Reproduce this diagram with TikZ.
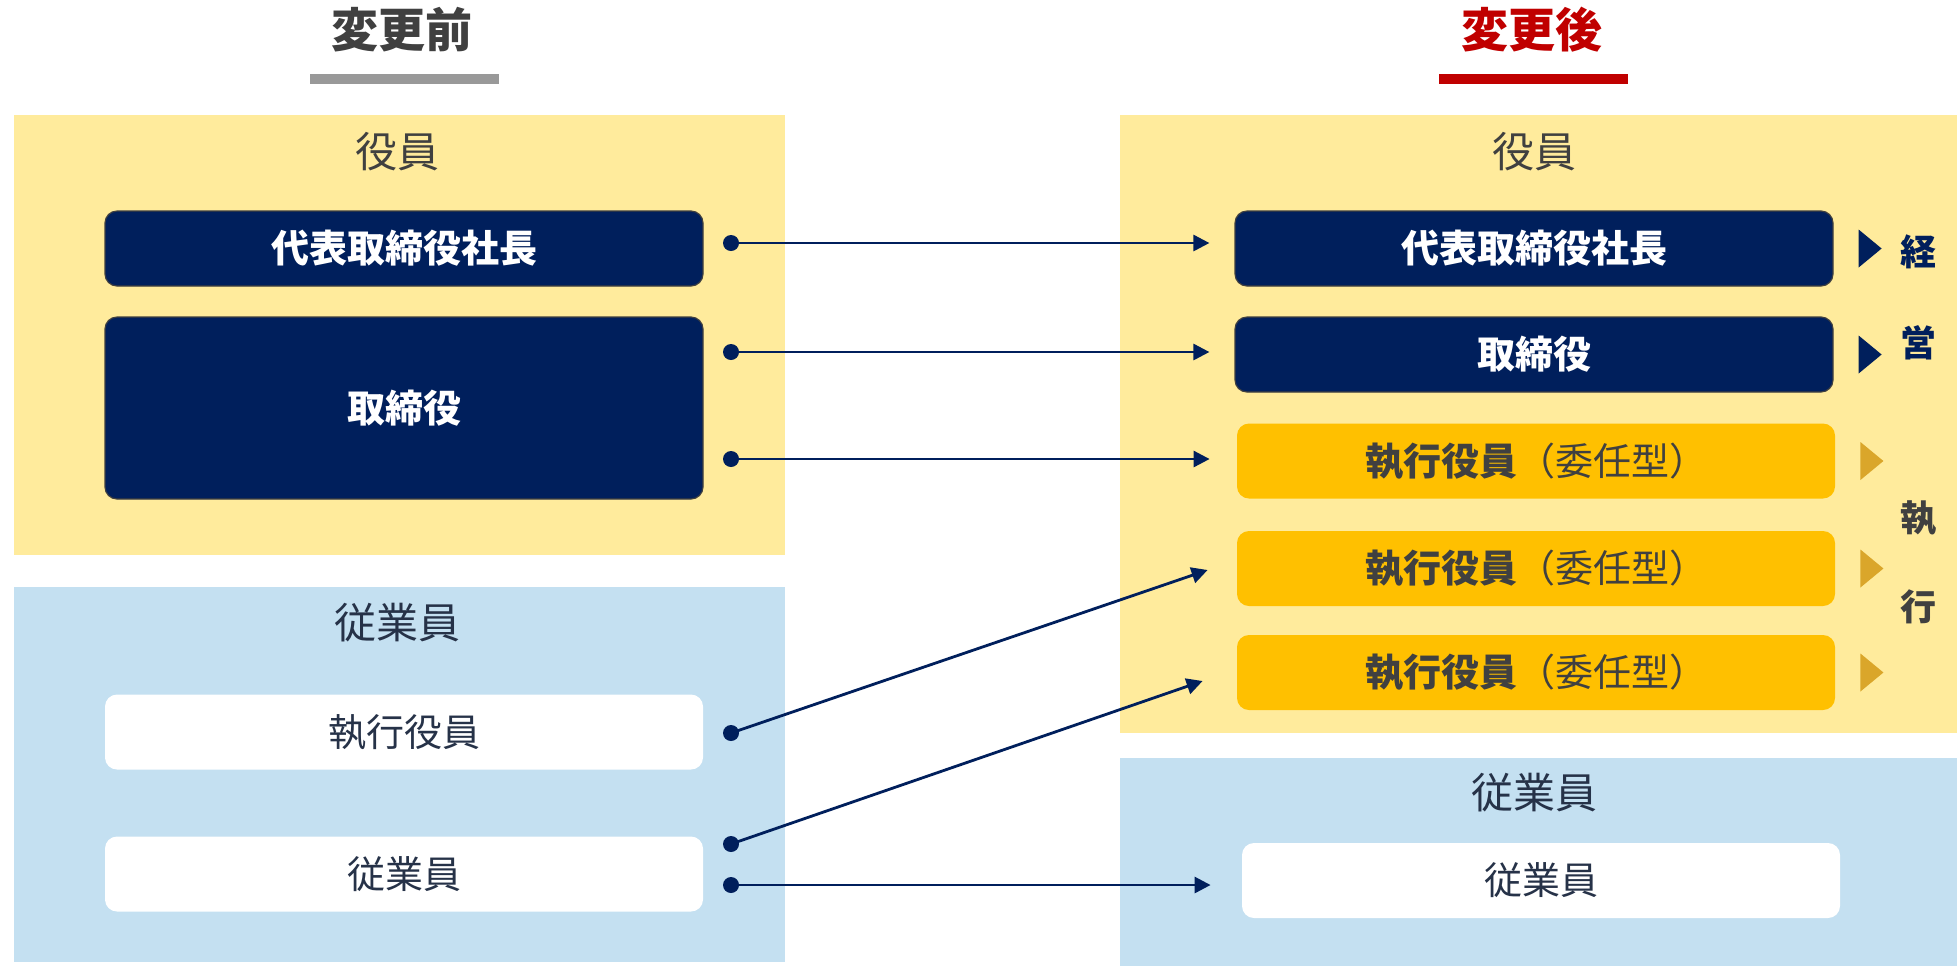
\documentclass[tikz,border=0pt]{standalone}
\usepackage{fontspec}
\setmainfont{Noto Sans CJK JP}
\usetikzlibrary{arrows.meta,calc}
\definecolor{paleyellow}{HTML}{FFEB9C}
\definecolor{paleblue}{HTML}{C4E0F1}
\definecolor{navy}{HTML}{001F5C}
\definecolor{gold}{HTML}{FFC000}
\definecolor{darkgold}{HTML}{DAA62A}
\definecolor{inkgray}{HTML}{404040}
\definecolor{inkblue}{HTML}{263248}
\definecolor{titlered}{HTML}{C00000}
\definecolor{bargray}{HTML}{999999}
\newcommand{\boxw}{299pt}
\newcommand{\boxh}{37.5pt}
\newcommand{\gapx}{12.5pt}

\begin{document}
\begin{tikzpicture}[x=0.5pt, y=-0.5pt]
    %\draw[help lines] (0,0) grid (1957,966);
    \tikzset{
        title/.style = {font=\bfseries\fontsize{23.5}{26}\selectfont, inner sep=0pt},
        bar/.style = {inner sep=0pt, minimum width=94.5pt, minimum height=5pt},
        head/.style = {font=\fontsize{21}{24}\selectfont, inner sep=0pt},
        roundbox/.style = {rounded corners=6pt, minimum width=\boxw, minimum height=\boxh, inner sep=0pt, font=\fontsize{19}{21}\selectfont},
        navybox/.style = {roundbox, draw=black!75, line width=0.6pt, fill=navy, text=white, font=\bfseries\fontsize{19}{21}\selectfont},
        goldbox/.style = {roundbox, fill=gold, text=inkgray},
        whitebox/.style = {roundbox, fill=white, text=inkblue},
        conn/.style = {navy, line width=1.4pt, -{Triangle[length=8pt, width=8pt]}},
        dot/.style = {circle, fill=navy, inner sep=0pt, minimum size=8pt},
        side/.style = {font=\bfseries\fontsize{18}{20}\selectfont, inner sep=0pt}
    }
    \useasboundingbox (0,0) rectangle (1957,966);

    % panels
    \fill[paleyellow] (14,115) rectangle (785,555);
    \fill[paleblue] (14,587) rectangle (785,962);
    \fill[paleyellow] (1120,115) rectangle (1957,733);
    \fill[paleblue] (1120,758) rectangle (1957,966);

    % titles
    \node[title, text=inkgray] (before) at (402,30) {変更前};
    \node[bar, fill=bargray] (barbefore) at (404,79) {};
    \node[title, text=titlered] (after) at (1532,30) {変更後};
    \node[bar, fill=titlered] (barafter) at (1533,79) {};

    % before
    \node[head, text=inkgray] (lofficer) at (397,152) {役員};
    \node[navybox] (lpres) at (404,248.5) {代表取締役社長};
    \node[navybox, minimum height=91pt] (ldir) at (404,408) {取締役};
    \node[head, text=inkblue] (lstaff) at (397,623) {従業員};
    \node[whitebox] (lexec) at (404,732) {執行役員};
    \node[whitebox] (lemp) at (404,874) {従業員};

    % after
    \node[head, text=inkgray] (rofficer) at (1534,152) {役員};
    \node[navybox] (rpres) at (1534,248.5) {代表取締役社長};
    \node[navybox] (rdir) at (1534,354.5) {取締役};
    \node[goldbox] (rexeca) at (1536,461) {{\bfseries 執行役員}（委任型）};
    \node[goldbox] (rexecb) at (1536,568.5) {{\bfseries 執行役員}（委任型）};
    \node[goldbox] (rexecc) at (1536,672.5) {{\bfseries 執行役員}（委任型）};
    \node[head, text=inkblue] (rstaff) at (1534,793) {従業員};
    \node[whitebox] (remp) at (1541,880.5) {従業員};

    % side marks
    \foreach \b/\c in {rpres/navy, rdir/navy, rexeca/darkgold, rexecb/darkgold, rexecc/darkgold}
        \fill[\c] ([xshift=\gapx, yshift=9.5pt]\b.east) -- ++(11.5pt,-9.5pt) -- ++(-11.5pt,-9.5pt) -- cycle;
    \node[side, text=navy] (kei) at (1918,252) {経};
    \node[side, text=navy] (ei) at (1918,343) {営};
    \node[side, text=inkgray] (shitsu) at (1918,518) {執};
    \node[side, text=inkgray] (kou) at (1918,607) {行};

    % connectors
    \node[dot] (sa) at (731,243) {};
    \node[dot] (sb) at (731,352) {};
    \node[dot] (sc) at (731,459) {};
    \node[dot] (sd) at (731,733) {};
    \node[dot] (se) at (731,844) {};
    \node[dot] (sf) at (731,885) {};
    \draw[conn, shorten >=\gapx] (sa.center) -- (sa -| rpres.west);
    \draw[conn, shorten >=\gapx] (sb.center) -- (sb -| rdir.west);
    \draw[conn, shorten >=13.5pt] (sc.center) -- (sc -| rexeca.west);
    \draw[conn] (sd.center) -- ($(rexecb.west)+(-29,1.5)$);
    \draw[conn] (se.center) -- ($(rexecc.west)+(-34,8.5)$);
    \draw[conn, shorten >=15.5pt] (sf.center) -- (sf -| remp.west);
\end{tikzpicture}
\end{document}
